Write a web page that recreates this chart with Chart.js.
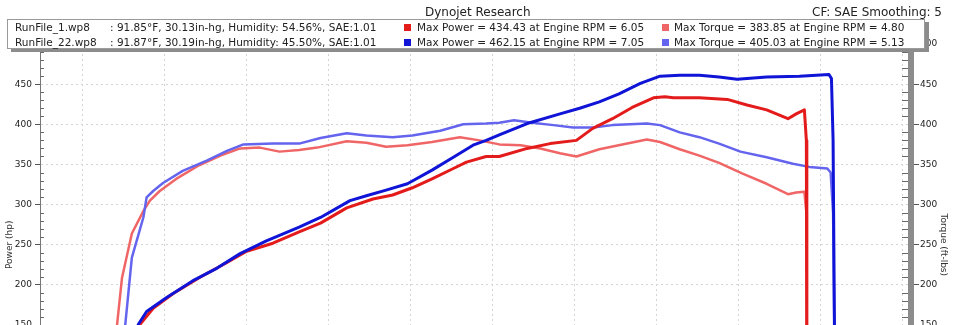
<!DOCTYPE html>
<html>
<head>
<meta charset="utf-8">
<title>Dynojet Research</title>
<script src="https://cdn.jsdelivr.net/npm/chart.js@4.4.1/dist/chart.umd.min.js"></script>
<style>
  body { margin: 0; background: #fff; }
  #wrap { position: relative; width: 953px; height: 325px; overflow: hidden; font-family: "DejaVu Sans", sans-serif; color: #222; }
  #dyno { position: absolute; left: 0; top: 0; }
  .head { position: absolute; top: 4px; font-size: 12px; line-height: 16px; white-space: nowrap; color: #222; }
  #runBox { position: absolute; left: 7px; top: 19px; width: 916px; height: 28px; background: #fff;
            border: 1px solid #9a9a9a; box-shadow: 4px 3px 0 #8c8c8c; font-size: 10.5px; }
  .row { position: absolute; left: 0; width: 100%; height: 15px; line-height: 15px; white-space: nowrap; }
  .cell { position: absolute; top: 0; }
  .sw { position: absolute; top: 4px; width: 7px; height: 7px; }
</style>
</head>
<body>
<div id="wrap">
  <canvas id="dyno" width="953" height="454"></canvas>
  <div class="head" style="left:425px;">Dynojet Research</div>
  <div class="head" style="left:812px;">CF: SAE Smoothing: 5</div>
  <div id="runBox"></div>
</div>
<script>
// run info shown in the box above the plot
var runNames = ["RunFile_1.wp8", "RunFile_22.wp8"];
var runTempF = [91.85, 91.87];
var runBaro = [30.13, 30.19];
var runHumidity = [54.56, 45.50];
var runSae = [1.01, 1.01];
var peakPower = [434.43, 462.15];
var peakPowerRpm = [6.05, 7.05];
var peakTorque = [383.85, 405.03];
var peakTorqueRpm = [4.80, 5.13];

// x grid (engine rpm x1000)
var rpmTicks = [2.5, 3, 3.5, 4, 4.5, 5, 5.5, 6, 6.5, 7, 7.5];

// run 1 power (hp)
var run1PowerRpm = [2.81, 2.85, 2.93, 3.05, 3.21, 3.38, 3.50, 3.66, 3.82, 3.95, 4.11, 4.27, 4.39, 4.51, 4.63, 4.76, 4.84, 4.96, 5.04,
  5.21, 5.35, 5.51, 5.61, 5.73, 5.85, 5.98, 6.05, 6.10, 6.26, 6.43, 6.55, 6.67, 6.80, 6.85, 6.90, 6.912, 6.915];
var run1Power = [138, 151, 171, 189, 209, 228, 242, 252, 266, 277, 296, 307, 312, 321, 332, 345, 353, 360, 360,
  370, 376, 380, 395, 407, 421, 433, 434.43, 433, 433, 431, 424, 418, 407, 413, 418, 380, 100];

// run 22 power (hp)
var run22PowerRpm = [2.80, 2.84, 2.89, 3.01, 3.17, 3.32, 3.46, 3.62, 3.82, 3.95, 4.13, 4.23, 4.35, 4.48, 4.63, 4.76, 4.88, 4.96, 5.04,
  5.21, 5.41, 5.53, 5.65, 5.77, 5.90, 6.02, 6.14, 6.26, 6.38, 6.49, 6.67, 6.87, 7.05, 7.065, 7.075, 7.085];
var run22Power = [135, 151, 167, 184, 205, 221, 239, 255, 272, 284, 305, 311, 318, 326, 343, 359, 374, 380, 387,
  401, 413, 420, 428, 438, 451, 460, 461, 461, 459, 456, 459, 460, 462.15, 457, 380, 100];

// run 1 torque (ft-lbs)
var run1TorqueRpm = [2.68, 2.71, 2.74, 2.80, 2.87, 2.91, 2.97, 3.07, 3.21, 3.34, 3.46, 3.58, 3.70, 3.82, 3.93, 4.11, 4.23, 4.35, 4.48,
  4.63, 4.80, 4.92, 5.04, 5.17, 5.29, 5.41, 5.51, 5.65, 5.82, 5.94, 6.02, 6.14, 6.26, 6.38, 6.52, 6.67, 6.80, 6.85, 6.90, 6.912, 6.915];
var run1Torque = [110, 151, 209, 264, 292, 305, 317, 332, 349, 361, 370, 371, 366, 368, 371, 379, 377, 372, 374,
  378, 383.85, 380, 375, 374, 370, 364, 360, 369, 376, 381, 378, 369, 361, 352, 339, 326, 313, 315, 316, 290, 100];

// run 22 torque (ft-lbs)
var run22TorqueRpm = [2.73, 2.76, 2.80, 2.87, 2.89, 2.93, 2.99, 3.11, 3.26, 3.38, 3.48, 3.66, 3.82, 3.95, 4.11, 4.23, 4.39, 4.51, 4.68,
  4.82, 4.96, 5.04, 5.13, 5.24, 5.37, 5.49, 5.61, 5.73, 5.94, 6.02, 6.14, 6.26, 6.38, 6.51, 6.67, 6.83, 6.93, 7.04, 7.06, 7.075, 7.085];
var run22Torque = [115, 151, 234, 284, 309, 317, 327, 342, 355, 367, 375, 376, 376, 383, 389, 386, 384, 386, 392,
  400, 401, 402, 405.03, 402, 399, 396, 396, 399, 401, 399, 390, 384, 376, 366, 359, 351, 347, 345, 340, 290, 100];

var powerColors = ["#e41b1b", "#0f14d6"];
var torqueColors = ["#f06666", "#6464ee"];

// fill the run box
var box = document.getElementById("runBox");
for (var r = 0; r < runNames.length; r++) {
  var row = document.createElement("div");
  row.className = "row";
  row.style.top = (r * 15) + "px";
  row.innerHTML =
    '<span class="cell" style="left:7px">' + runNames[r] + '</span>' +
    '<span class="cell" style="left:102px">: ' + runTempF[r].toFixed(2) + '°F, ' + runBaro[r].toFixed(2) +
      'in-hg, Humidity: ' + runHumidity[r].toFixed(2) + '%, SAE:' + runSae[r].toFixed(2) + '</span>' +
    '<span class="sw" style="left:396px;background:' + powerColors[r] + '"></span>' +
    '<span class="cell" style="left:409px">Max Power = ' + peakPower[r].toFixed(2) + ' at Engine RPM = ' + peakPowerRpm[r].toFixed(2) + '</span>' +
    '<span class="sw" style="left:654px;background:' + torqueColors[r] + '"></span>' +
    '<span class="cell" style="left:666px">Max Torque = ' + peakTorque[r].toFixed(2) + ' at Engine RPM = ' + peakTorqueRpm[r].toFixed(2) + '</span>';
  box.appendChild(row);
}

function pts(xs, ys) {
  return xs.map(function (x, i) { return { x: x, y: ys[i] }; });
}

// small ticks every 10 units, pointing into the plot on both sides
var minorTicks = {
  id: "minorTicks",
  beforeDatasetsDraw: function (chart) {
    var ctx = chart.ctx, area = chart.chartArea;
    var left = chart.scales.yPower, right = chart.scales.yTorque;
    ctx.save();
    ctx.lineWidth = 1;
    ctx.strokeStyle = "#6a6a6a";
    for (var v = 10; v < 500; v += 10) {
      if (v % 50 === 0) continue;
      var py = Math.round(left.getPixelForValue(v)) + 0.5;
      ctx.beginPath(); ctx.moveTo(area.left, py); ctx.lineTo(area.left + 4, py); ctx.stroke();
      var qy = Math.round(right.getPixelForValue(v)) + 0.5;
      ctx.beginPath(); ctx.moveTo(area.right - 9, qy); ctx.lineTo(area.right - 3, qy); ctx.stroke();
    }
    ctx.restore();
  }
};

var tickFont = { family: "DejaVu Sans", size: 9 };
var gridGray = "#d4d4d4";

new Chart(document.getElementById("dyno"), {
  type: "scatter",
  data: {
    datasets: [
      { data: pts(run22PowerRpm, run22Power), yAxisID: "yPower", borderColor: powerColors[1], borderWidth: 3, order: 1 },
      { data: pts(run1PowerRpm, run1Power), yAxisID: "yPower", borderColor: powerColors[0], borderWidth: 3, order: 2 },
      { data: pts(run22TorqueRpm, run22Torque), yAxisID: "yTorque", borderColor: torqueColors[1], borderWidth: 2.5, order: 3 },
      { data: pts(run1TorqueRpm, run1Torque), yAxisID: "yTorque", borderColor: torqueColors[0], borderWidth: 2.5, order: 4 }
    ]
  },
  plugins: [minorTicks],
  options: {
    responsive: false,
    animation: false,
    showLine: true,
    elements: { point: { radius: 0 }, line: { tension: 0, borderCapStyle: "round", borderJoinStyle: "round" } },
    layout: { padding: { top: 44, left: 0, right: 0, bottom: 0 } },
    plugins: { legend: { display: false }, tooltip: { enabled: false } },
    scales: {
      x: {
        type: "linear", min: 2.24, max: 7.55,
        afterBuildTicks: function (s) { s.ticks = rpmTicks.map(function (v) { return { value: v }; }); },
        afterFit: function (s) { s.height = 0; },
        ticks: { display: false },
        grid: { color: gridGray, drawTicks: false },
        border: { display: false, dash: [2, 3] }
      },
      yPower: {
        position: "left", min: 0, max: 500,
        afterFit: function (s) { s.width = 40; },
        ticks: { stepSize: 50, padding: 3, color: "#222", font: tickFont },
        grid: { color: gridGray, tickColor: "#555", tickLength: 5 },
        border: { color: "#777", width: 1, dash: [2, 3] },
        title: { display: true, text: "Power (hp)", color: "#333", font: tickFont, padding: { top: 4, bottom: 0 } }
      },
      yTorque: {
        position: "right", min: 0, max: 500,
        afterFit: function (s) { s.width = 42; },
        ticks: { stepSize: 50, padding: 1, color: "#222", font: tickFont },
        grid: { drawOnChartArea: false, tickColor: "#555", tickLength: 8 },
        border: { color: "#8c8c8c", width: 6 },
        title: { display: true, text: "Torque (ft-lbs)", color: "#333", font: tickFont, padding: { top: 4, bottom: 0 } }
      }
    }
  }
});
</script>
</body>
</html>
